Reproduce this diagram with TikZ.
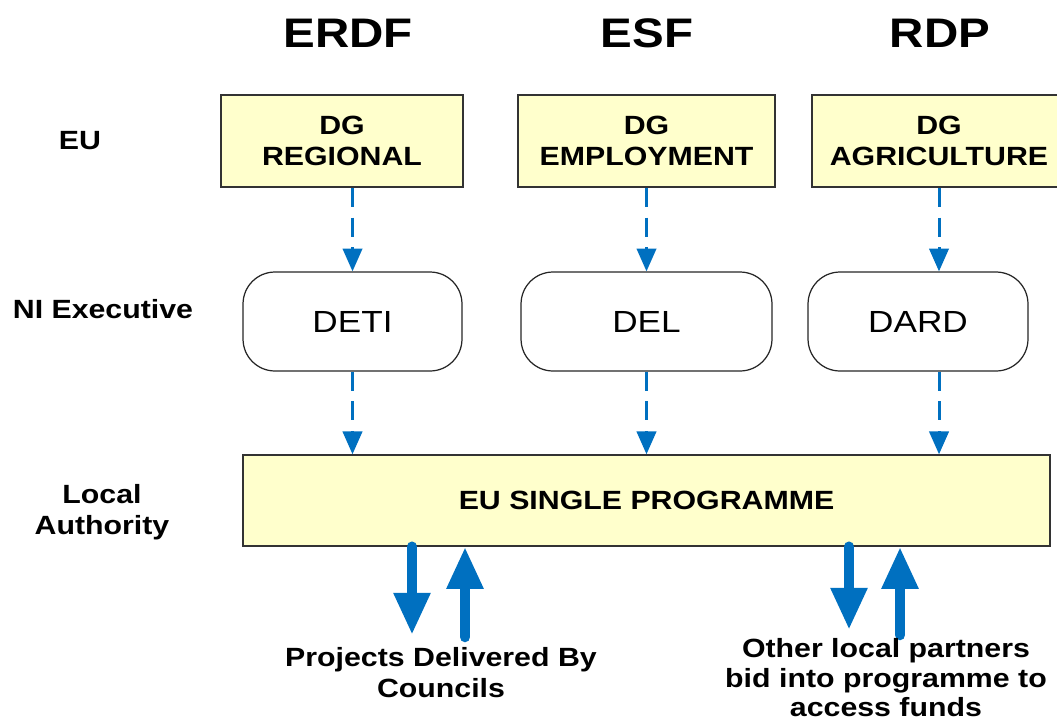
\documentclass[tikz,border=0pt]{standalone}
\usepackage{fontspec}
\setmainfont{Liberation Sans}[FakeStretch=1.15]
\usetikzlibrary{arrows.meta}
\definecolor{arrowblue}{RGB}{0,112,192}
\definecolor{boxyellow}{RGB}{255,255,204}

\begin{document}
\begin{tikzpicture}[x=0.02cm,y=-0.02cm,
  dgbox/.style={draw=black!80,fill=boxyellow,line width=0.8pt,inner sep=0pt,minimum height=1.84cm,align=center,font=\fontsize{15}{18}\selectfont\bfseries},
  deptbox/.style={draw=black!85,fill=white,rounded corners=0.64cm,line width=0.7pt,inner sep=0pt,minimum height=1.98cm,font=\fontsize{17.4}{20}\selectfont},
  level/.style={align=center,font=\fontsize{15}{17.6}\selectfont\bfseries},
  fund/.style={font=\fontsize{23.5}{27}\selectfont\bfseries},
  flow/.style={arrowblue,line width=1.7pt,dash pattern=on 10.8pt off 6.2pt,-{Triangle[width=11pt,length=13pt]}},
  bid/.style={arrowblue,line width=6pt,line cap=round,-{Triangle[width=19.5pt,length=24pt]}},
]
\useasboundingbox (0,0) rectangle (1057,720);

% funds
\node[fund] (erdf) at (348,33) {ERDF};
\node[fund] (esf) at (647,33) {ESF};
\node[fund] (rdp) at (940,33) {RDP};

% levels
\node[level] (eu) at (80,141) {EU};
\node[level] (ni) at (103,309) {NI Executive};
\node[level] (la) at (102,512) {Local\\Authority};

\node[dgbox,minimum width=4.84cm] (reg) at (342,141) {DG\\REGIONAL};
\node[dgbox,minimum width=5.14cm] (emp) at (646.5,141) {DG\\EMPLOYMENT};
\node[dgbox,minimum width=5.08cm] (agr) at (939,141) {DG\\AGRICULTURE};

\node[deptbox,minimum width=4.38cm] (deti) at (352.5,321.5) {DETI};
\node[deptbox,minimum width=5.02cm] (del) at (646.5,321.5) {DEL};
\node[deptbox,minimum width=4.4cm] (dard) at (918,321.5) {DARD};

\node[dgbox,minimum width=16.14cm,minimum height=1.82cm] (prog) at (646.5,500.5) {EU SINGLE PROGRAMME};

\draw[flow] (reg.south -| deti.north) -- (deti.north);
\draw[flow] (emp.south -| del.north) -- (del.north);
\draw[flow] (agr.south) -- (agr.south |- dard.north);

\draw[flow] (deti.south) -- (deti.south |- prog.north);
\draw[flow] (del.south) -- (del.south |- prog.north);
\draw[flow] (agr.south |- dard.south) -- (agr.south |- prog.north);

% bids
\coordinate (projdn) at (412,635);
\coordinate (projup) at (465,637);
\coordinate (othdn) at (849,630);
\coordinate (othup) at (900,635);
\draw[bid] (prog.south -| projdn) -- (projdn);
\draw[bid] (projup) -- (prog.south -| projup);
\draw[bid] (prog.south -| othdn) -- (othdn);
\draw[bid] (othup) -- (prog.south -| othup);

\node[level] (proj) at (441,673) {Projects Delivered By\\Councils};
\node[level,font=\fontsize{15}{16.8}\selectfont\bfseries] (oth) at (886,678) {Other local partners\\bid into programme to\\access funds};
\end{tikzpicture}
\end{document}
